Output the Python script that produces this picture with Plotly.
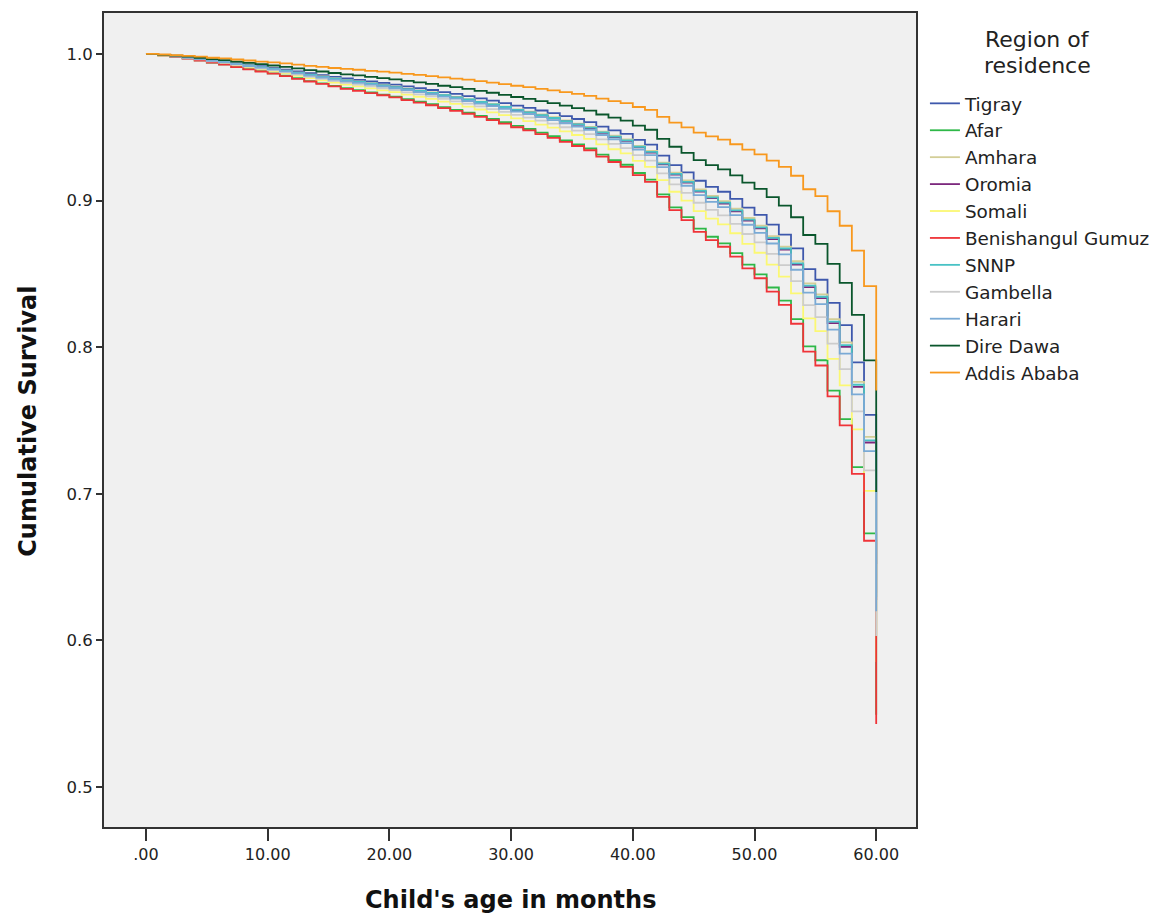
import plotly.graph_objects as go

months = list(range(0, 61))

regions = ["Tigray", "Afar", "Amhara", "Oromia", "Somali", "Benishangul Gumuz",
           "SNNP", "Gambella", "Harari", "Dire Dawa", "Addis Ababa"]

tigray = [1.0, 0.9993, 0.9986, 0.9978, 0.9969, 0.9958, 0.9949, 0.9937, 0.9926, 0.9916,
          0.9905, 0.9893, 0.9881, 0.9868, 0.9856, 0.9844, 0.9833, 0.9823, 0.9812, 0.9802,
          0.9791, 0.9778, 0.9766, 0.9754, 0.9740, 0.9727, 0.9712, 0.9697, 0.9681, 0.9665,
          0.9647, 0.9632, 0.9614, 0.9596, 0.9576, 0.9556, 0.9535, 0.9504, 0.9478, 0.9455,
          0.9414, 0.9381, 0.9307, 0.9242, 0.9192, 0.9135, 0.9093, 0.9060, 0.9011, 0.8952,
          0.8902, 0.8836, 0.8768, 0.8674, 0.8532, 0.8460, 0.8302, 0.8151, 0.7896, 0.7539,
          0.6522]
afar = [1.0, 0.9990, 0.9980, 0.9969, 0.9956, 0.9941, 0.9929, 0.9912, 0.9897, 0.9882,
        0.9867, 0.9851, 0.9834, 0.9815, 0.9799, 0.9782, 0.9766, 0.9753, 0.9738, 0.9723,
        0.9708, 0.9691, 0.9674, 0.9657, 0.9637, 0.9619, 0.9599, 0.9578, 0.9556, 0.9534,
        0.9509, 0.9488, 0.9463, 0.9439, 0.9411, 0.9383, 0.9355, 0.9313, 0.9276, 0.9244,
        0.9188, 0.9143, 0.9042, 0.8954, 0.8887, 0.8809, 0.8753, 0.8708, 0.8642, 0.8563,
        0.8496, 0.8407, 0.8317, 0.8192, 0.8005, 0.7911, 0.7704, 0.7509, 0.7182, 0.6731,
        0.5494]
amhara = [1.0, 0.9993, 0.9985, 0.9976, 0.9966, 0.9955, 0.9945, 0.9933, 0.9921, 0.9910,
          0.9899, 0.9886, 0.9873, 0.9859, 0.9846, 0.9833, 0.9821, 0.9811, 0.9799, 0.9788,
          0.9776, 0.9763, 0.9750, 0.9737, 0.9721, 0.9707, 0.9692, 0.9675, 0.9659, 0.9641,
          0.9622, 0.9606, 0.9587, 0.9568, 0.9546, 0.9525, 0.9503, 0.9470, 0.9442, 0.9417,
          0.9373, 0.9338, 0.9259, 0.9190, 0.9137, 0.9076, 0.9031, 0.8996, 0.8944, 0.8881,
          0.8829, 0.8757, 0.8686, 0.8586, 0.8435, 0.8360, 0.8192, 0.8033, 0.7764, 0.7389,
          0.6326]
oromia = [1.0, 0.9992, 0.9985, 0.9976, 0.9966, 0.9954, 0.9944, 0.9932, 0.9919, 0.9908,
          0.9897, 0.9884, 0.9870, 0.9856, 0.9843, 0.9830, 0.9818, 0.9807, 0.9795, 0.9784,
          0.9772, 0.9759, 0.9745, 0.9732, 0.9716, 0.9702, 0.9687, 0.9670, 0.9653, 0.9635,
          0.9616, 0.9599, 0.9579, 0.9560, 0.9539, 0.9517, 0.9494, 0.9461, 0.9432, 0.9407,
          0.9363, 0.9327, 0.9247, 0.9177, 0.9123, 0.9061, 0.9016, 0.8980, 0.8927, 0.8863,
          0.8810, 0.8737, 0.8665, 0.8563, 0.8410, 0.8334, 0.8164, 0.8002, 0.7730, 0.7350,
          0.6276]
somali = [1.0, 0.9991, 0.9983, 0.9972, 0.9961, 0.9948, 0.9936, 0.9921, 0.9907, 0.9894,
          0.9881, 0.9867, 0.9851, 0.9835, 0.9820, 0.9805, 0.9791, 0.9779, 0.9765, 0.9752,
          0.9739, 0.9723, 0.9708, 0.9693, 0.9675, 0.9659, 0.9641, 0.9621, 0.9602, 0.9582,
          0.9560, 0.9541, 0.9518, 0.9497, 0.9472, 0.9447, 0.9421, 0.9383, 0.9350, 0.9322,
          0.9271, 0.9230, 0.9139, 0.9060, 0.8999, 0.8928, 0.8877, 0.8837, 0.8777, 0.8705,
          0.8644, 0.8563, 0.8481, 0.8367, 0.8196, 0.8110, 0.7920, 0.7740, 0.7439, 0.7020,
          0.5854]
benishangul = [1.0, 0.9990, 0.9980, 0.9968, 0.9955, 0.9940, 0.9927, 0.9910, 0.9895, 0.9880,
               0.9865, 0.9848, 0.9830, 0.9812, 0.9795, 0.9778, 0.9762, 0.9748, 0.9733, 0.9718,
               0.9703, 0.9685, 0.9668, 0.9650, 0.9630, 0.9612, 0.9592, 0.9570, 0.9548, 0.9525,
               0.9500, 0.9478, 0.9453, 0.9428, 0.9400, 0.9372, 0.9343, 0.9300, 0.9263, 0.9230,
               0.9173, 0.9127, 0.9025, 0.8935, 0.8867, 0.8787, 0.8730, 0.8685, 0.8617, 0.8537,
               0.8470, 0.8379, 0.8288, 0.8160, 0.7970, 0.7875, 0.7665, 0.7467, 0.7136, 0.6680,
               0.5430]
snnp = [1.0, 0.9992, 0.9985, 0.9976, 0.9966, 0.9955, 0.9945, 0.9932, 0.9920, 0.9909,
        0.9897, 0.9885, 0.9871, 0.9857, 0.9844, 0.9831, 0.9819, 0.9809, 0.9797, 0.9786,
        0.9774, 0.9760, 0.9747, 0.9734, 0.9718, 0.9704, 0.9689, 0.9672, 0.9655, 0.9638,
        0.9618, 0.9602, 0.9582, 0.9563, 0.9542, 0.9520, 0.9498, 0.9465, 0.9436, 0.9411,
        0.9367, 0.9332, 0.9252, 0.9182, 0.9128, 0.9066, 0.9022, 0.8986, 0.8933, 0.8870,
        0.8817, 0.8745, 0.8673, 0.8572, 0.8420, 0.8344, 0.8174, 0.8014, 0.7744, 0.7365,
        0.6295]
gambella = [1.0, 0.9992, 0.9983, 0.9974, 0.9963, 0.9950, 0.9940, 0.9926, 0.9913, 0.9900,
            0.9888, 0.9874, 0.9859, 0.9844, 0.9830, 0.9815, 0.9802, 0.9791, 0.9778, 0.9766,
            0.9753, 0.9738, 0.9724, 0.9710, 0.9693, 0.9677, 0.9661, 0.9642, 0.9624, 0.9605,
            0.9584, 0.9566, 0.9545, 0.9524, 0.9500, 0.9477, 0.9453, 0.9417, 0.9386, 0.9358,
            0.9310, 0.9272, 0.9186, 0.9110, 0.9052, 0.8985, 0.8937, 0.8899, 0.8841, 0.8772,
            0.8715, 0.8637, 0.8560, 0.8451, 0.8287, 0.8205, 0.8024, 0.7851, 0.7562, 0.7160,
            0.6031]
harari = [1.0, 0.9992, 0.9984, 0.9975, 0.9965, 0.9953, 0.9943, 0.9930, 0.9917, 0.9906,
          0.9894, 0.9881, 0.9867, 0.9852, 0.9839, 0.9825, 0.9813, 0.9802, 0.9790, 0.9779,
          0.9766, 0.9753, 0.9739, 0.9725, 0.9709, 0.9695, 0.9679, 0.9661, 0.9644, 0.9626,
          0.9606, 0.9589, 0.9569, 0.9549, 0.9527, 0.9505, 0.9482, 0.9447, 0.9418, 0.9392,
          0.9347, 0.9310, 0.9228, 0.9156, 0.9101, 0.9037, 0.8991, 0.8955, 0.8900, 0.8835,
          0.8780, 0.8707, 0.8633, 0.8528, 0.8372, 0.8294, 0.8120, 0.7956, 0.7678, 0.7291,
          0.6200]
dire_dawa = [1.0, 0.9994, 0.9988, 0.9981, 0.9974, 0.9965, 0.9958, 0.9948, 0.9939, 0.9930,
             0.9921, 0.9912, 0.9901, 0.9890, 0.9880, 0.9870, 0.9861, 0.9853, 0.9844, 0.9835,
             0.9826, 0.9816, 0.9806, 0.9795, 0.9783, 0.9773, 0.9761, 0.9748, 0.9735, 0.9721,
             0.9706, 0.9693, 0.9678, 0.9664, 0.9647, 0.9630, 0.9613, 0.9587, 0.9565, 0.9545,
             0.9511, 0.9483, 0.9421, 0.9367, 0.9325, 0.9276, 0.9241, 0.9213, 0.9172, 0.9122,
             0.9080, 0.9023, 0.8966, 0.8886, 0.8765, 0.8704, 0.8568, 0.8439, 0.8220, 0.7910,
             0.7013]
addis_ababa = [1.0, 0.9996, 0.9991, 0.9986, 0.9981, 0.9974, 0.9969, 0.9962, 0.9955, 0.9948,
               0.9942, 0.9935, 0.9927, 0.9919, 0.9912, 0.9904, 0.9898, 0.9892, 0.9885, 0.9879,
               0.9872, 0.9864, 0.9857, 0.9849, 0.9840, 0.9832, 0.9824, 0.9814, 0.9804, 0.9794,
               0.9783, 0.9774, 0.9762, 0.9752, 0.9739, 0.9727, 0.9714, 0.9695, 0.9678, 0.9664,
               0.9638, 0.9618, 0.9571, 0.9531, 0.9499, 0.9463, 0.9437, 0.9416, 0.9384, 0.9347,
               0.9315, 0.9272, 0.9229, 0.9169, 0.9077, 0.9030, 0.8927, 0.8828, 0.8658, 0.8417,
               0.7705]

series = [tigray, afar, amhara, oromia, somali, benishangul,
          snnp, gambella, harari, dire_dawa, addis_ababa]
colors = ["#3E58AC", "#2EB848", "#D3CE97", "#7C287D", "#FBF873", "#EF3338",
          "#48C2C5", "#CCCCCC", "#7AAAD5", "#0A562C", "#F8981D"]

x_tickvals = [0, 10, 20, 30, 40, 50, 60]
x_ticktext = [".00", "10.00", "20.00", "30.00", "40.00", "50.00", "60.00"]
y_tickvals = [0.5, 0.6, 0.7, 0.8, 0.9, 1.0]
y_ticktext = ["0.5", "0.6", "0.7", "0.8", "0.9", "1.0"]

FONT = "DejaVu Sans, Liberation Sans, Arial, sans-serif"

fig = go.Figure()
for name, vals, col in zip(regions, series, colors):
    fig.add_trace(go.Scatter(
        x=months, y=vals, name=name, mode="lines",
        line=dict(color=col, width=1.8, shape="hv"),
    ))

# page body has an 8px default margin, so the figure is sized 8px smaller
fig.update_layout(
    width=1154, height=914,
    margin=dict(l=96, r=246, t=3, b=95),
    paper_bgcolor="white",
    plot_bgcolor="#F0F0F0",
    font=dict(family=FONT, size=16, color="#222222"),
    showlegend=True,
    legend=dict(
        x=1.011, xanchor="left", y=0.9117, yanchor="top",
        font=dict(family=FONT, size=18.4, color="#222222"),
        bgcolor="rgba(0,0,0,0)", tracegroupgap=0, itemwidth=30,
    ),
    xaxis=dict(
        range=[-3.45, 63.27], tickvals=x_tickvals, ticktext=x_ticktext,
        showgrid=False, zeroline=False, showline=True, mirror=True,
        linecolor="#333333", linewidth=2, ticks="outside", ticklen=12,
        tickwidth=2, tickcolor="#333333", tickfont=dict(size=16),
    ),
    yaxis=dict(
        range=[0.4728, 1.0279], tickvals=y_tickvals, ticktext=y_ticktext,
        showgrid=False, zeroline=False, showline=True, mirror=True,
        linecolor="#333333", linewidth=2, ticks="outside", ticklen=6,
        tickwidth=2, tickcolor="#333333", tickfont=dict(size=16.5),
    ),
    annotations=[
        dict(text="Child's age in months", xref="paper", yref="paper",
             x=0.5, y=-0.0895, xanchor="center", yanchor="middle", showarrow=False,
             font=dict(family=FONT, size=24, color="#111111", weight="bold")),
        dict(text="Cumulative Survival", xref="paper", yref="paper",
             x=-0.0936, y=0.499, xanchor="center", yanchor="middle", showarrow=False,
             textangle=-90,
             font=dict(family=FONT, size=24, color="#111111", weight="bold")),
        dict(text="Region of", xref="paper", yref="paper",
             x=1.150, y=0.9669, xanchor="center", yanchor="middle", showarrow=False,
             font=dict(family=FONT, size=22, color="#222222")),
        dict(text="residence", xref="paper", yref="paper",
             x=1.150, y=0.9350, xanchor="center", yanchor="middle", showarrow=False,
             font=dict(family=FONT, size=22, color="#222222")),
    ],
)

fig.write_html("out.html")
